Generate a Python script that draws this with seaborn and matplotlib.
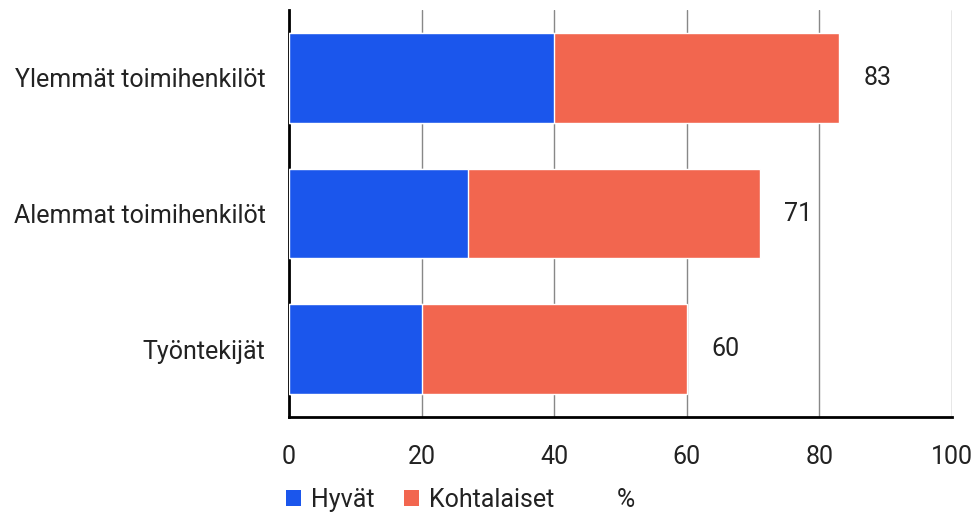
import matplotlib
matplotlib.use("Agg")
import matplotlib.pyplot as plt
from matplotlib.patches import Patch
import seaborn as sns
import pandas as pd

categories = ["Ylemmät toimihenkilöt", "Alemmat toimihenkilöt", "Työntekijät"]
hyvat = [40, 27, 20]
kohtalaiset = [43, 44, 40]
series_names = ["Hyvät", "Kohtalaiset"]
x_ticks = [0, 20, 40, 60, 80, 100]
unit_label = "%"

BLUE = "#1B56EC"
ORANGE = "#F2664F"
TEXT = "#222222"
FS = 18

sns.set_theme(style="white")
plt.rcParams["font.family"] = ["Roboto", "DejaVu Sans"]

df = pd.DataFrame({"category": categories, "hyvat": hyvat, "kohtalaiset": kohtalaiset})
df["total"] = df["hyvat"] + df["kohtalaiset"]

fig = plt.figure(figsize=(9.76, 5.12), dpi=100)
ax = fig.add_axes([0.2961, 0.1855, 0.6793, 0.795])

# stacked bars: total (orange) underneath, good share (blue) on top
sns.barplot(data=df, x="total", y="category", color=ORANGE, width=0.66,
            edgecolor="white", linewidth=1, saturation=1, ax=ax, zorder=3)
sns.barplot(data=df, x="hyvat", y="category", color=BLUE, width=0.66,
            edgecolor="white", linewidth=1, saturation=1, ax=ax, zorder=4)

for i, tot in enumerate(df["total"]):
    ax.text(tot + 3.7, i, f"{tot}", va="center", ha="left", fontsize=FS, color=TEXT)

ax.set_xlim(0, 100)
ax.set_ylim(2.5, -0.5)
ax.set_xticks(x_ticks)
ax.set_xticklabels([str(t) for t in x_ticks], fontsize=FS, color=TEXT)
ax.tick_params(axis="y", labelsize=FS, labelcolor=TEXT, length=0, pad=17)
ax.tick_params(axis="x", length=0, pad=20)
ax.set_xlabel("")
ax.set_ylabel("")

ax.xaxis.grid(True, color="#888888", linewidth=1, zorder=0)
ax.yaxis.grid(False)
ax.set_axisbelow(True)

for side in ["top", "right"]:
    ax.spines[side].set_visible(False)
for side in ["left", "bottom"]:
    ax.spines[side].set_color("black")
    ax.spines[side].set_linewidth(2)

handles = [Patch(facecolor=BLUE, edgecolor="none"), Patch(facecolor=ORANGE, edgecolor="none")]
fig.legend(handles, series_names, loc="center left", bbox_to_anchor=(0.293, 0.024),
           ncol=2, frameon=False, fontsize=FS, handlelength=0.6, handleheight=0.6,
           handletextpad=0.4, columnspacing=1.2, labelcolor=TEXT,
           borderaxespad=0, borderpad=0)
fig.text(0.641, 0.024, unit_label, fontsize=FS, color=TEXT, ha="center", va="center")

fig.savefig("out.png", dpi=100)
